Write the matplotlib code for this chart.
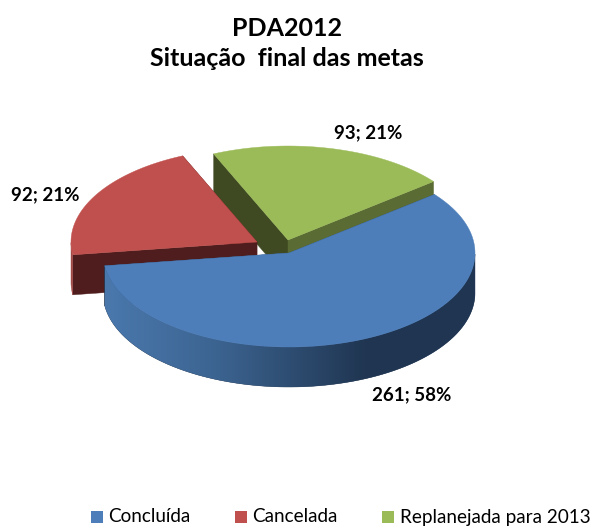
import numpy as np
import matplotlib
matplotlib.use("Agg")
import matplotlib.pyplot as plt
from matplotlib.colors import LinearSegmentedColormap
from matplotlib.patches import Polygon, Rectangle

plt.rcParams['font.family'] = ['Lato', 'DejaVu Sans']

# chart data
categories = ["Concluída", "Cancelada", "Replanejada para 2013"]
values = [261, 92, 93]
labels = ["261; 58%", "92; 21%", "93; 21%"]
title_lines = ["PDA2012", "Situação  final das metas"]

# look of the pie, in pixels of the picture
START_ANGLE = 38.5
RX, RY = 186, 94
DEPTH = 40
centers = [(289, 253), (257, 242), (288, 240)]
top_colors = ["#4D7EBA", "#C0504D", "#9BBB59"]
# slices run clockwise: first cut face is the start edge, second the end edge
start_cut_colors = ["#2F4D70", "#4F1D1D", "#3F4A22"]
end_cut_colors = ["#2F4D70", "#4F1D1D", "#5A6B33"]
wall_colors = ["#203652", "#A04A48", "#5A6B33"]
label_pos = [(412, 395), (45, 195), (368, 133)]
legend_box_x = [91, 235, 382]
legend_text_x = [108, 252, 400]

fig = plt.figure(figsize=(5.94, 5.27), dpi=100)
ax = fig.add_axes([0, 0, 1, 1])
ax.set_xlim(0, 594)
ax.set_ylim(527, 0)
ax.axis("off")


def arc(center, a0, a1):
    t = np.radians(np.linspace(a0, a1, 200))
    return np.column_stack([center[0] + RX * np.cos(t), center[1] - RY * np.sin(t)])


def draw_slice(i, a0, a1, z):
    c = centers[i]
    drop = np.array([0, DEPTH])
    rim = arc(c, a0, a1)

    # cut faces going down from the two straight edges
    for edge, col in ((rim[0], start_cut_colors[i]), (rim[-1], end_cut_colors[i])):
        face = np.array([c, edge, edge + drop, np.array(c) + drop])
        ax.add_patch(Polygon(face, closed=True, fc=col, ec=col, lw=0.3, zorder=z))

    # outer wall only where the rim faces the viewer
    t = np.linspace(a0, a1, 200)
    front = rim[np.sin(np.radians(t)) <= 0]
    if len(front) > 1:
        wall = np.vstack([front, (front + drop)[::-1]])
        wall_patch = Polygon(wall, closed=True, fc=wall_colors[i], ec=wall_colors[i], lw=0.3, zorder=z)
        ax.add_patch(wall_patch)
        if i == 0:
            # blue wall fades from mid blue on the left to navy on the right
            cmap = LinearSegmentedColormap.from_list(
                "wall", [(0, "#4A78AD"), (0.3, "#3C6491"), (0.7, "#203652"), (1, "#1F3552")])
            grad = np.linspace(0, 1, 256).reshape(1, -1)
            im = ax.imshow(grad, cmap=cmap, aspect="auto", zorder=z + 0.2,
                           extent=[wall[:, 0].min(), wall[:, 0].max(),
                                   wall[:, 1].max(), wall[:, 1].min()])
            im.set_clip_path(wall_patch)
            ax.set_xlim(0, 594)
            ax.set_ylim(527, 0)

    top = np.vstack([c, rim])
    ax.add_patch(Polygon(top, closed=True, fc=top_colors[i], ec=top_colors[i], lw=0.3, zorder=z + 0.5))


sweeps = 360 * np.array(values) / sum(values)
spans = []
a = START_ANGLE
for s in sweeps:
    spans.append((a, a - s))
    a -= s

# back slices first, blue covers them
for z, i in enumerate([2, 1, 0]):
    draw_slice(i, spans[i][0], spans[i][1], z + 1)

# title
ax.text(287, 29, title_lines[0], ha="center", va="center", fontsize=18, fontweight="bold", color="black")
ax.text(287, 58, title_lines[1], ha="center", va="center", fontsize=18, fontweight="bold", color="black")

# data labels
for pos, lab in zip(label_pos, labels):
    ax.text(pos[0], pos[1], lab, ha="center", va="center", fontsize=13.5, fontweight="bold", color="black")

# legend
for i, name in enumerate(categories):
    ax.add_patch(Rectangle((legend_box_x[i], 511), 12, 12, fc=top_colors[i], ec="none"))
    ax.text(legend_text_x[i], 517, name, ha="left", va="center", fontsize=13.6, color="black")

fig.savefig("out.png", dpi=100)
